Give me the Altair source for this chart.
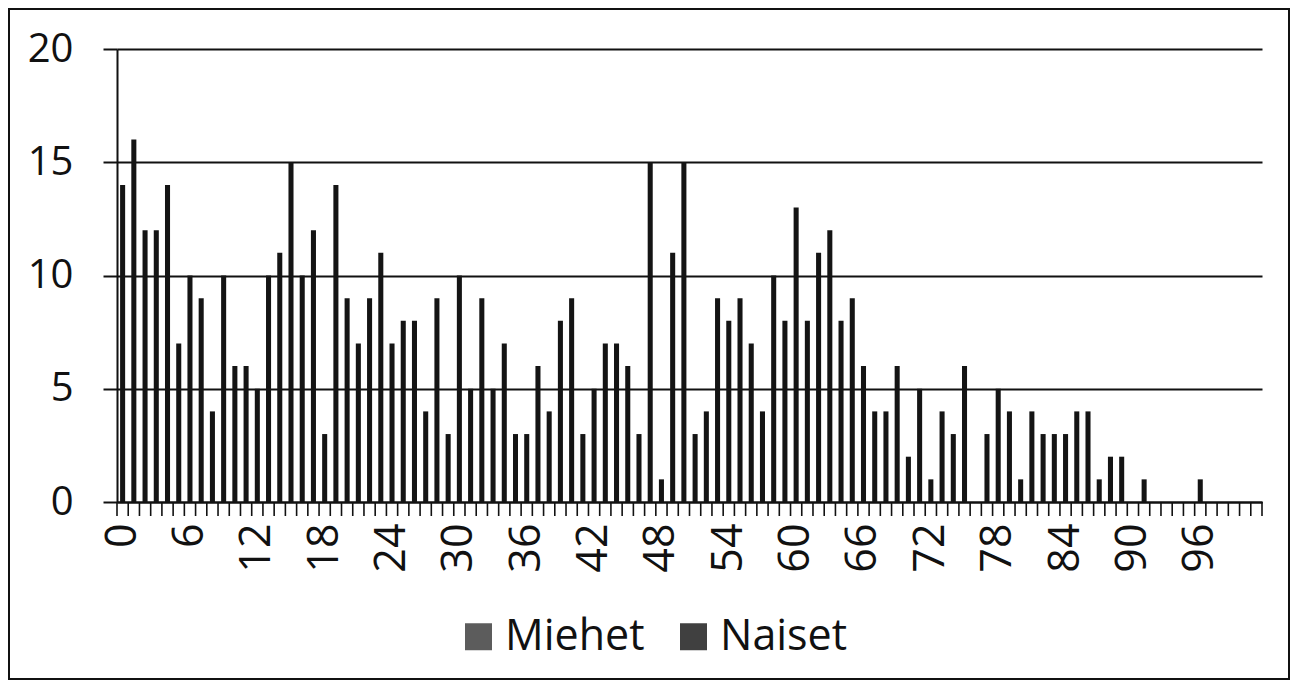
import altair as alt
import pandas as pd

# Age (0..101) on the x axis, number of persons on the y axis
ages = list(range(102))
counts = [14, 16, 12, 12, 14, 7, 10, 9, 4, 10,
          6, 6, 5, 10, 11, 15, 10, 12, 3, 14,
          9, 7, 9, 11, 7, 8, 8, 4, 9, 3,
          10, 5, 9, 5, 7, 3, 3, 6, 4, 8,
          9, 3, 5, 7, 7, 6, 3, 15, 1, 11,
          15, 3, 4, 9, 8, 9, 7, 4, 10, 8,
          13, 8, 11, 12, 8, 9, 6, 4, 4, 6,
          2, 5, 1, 4, 3, 6, 0, 3, 5, 4,
          1, 4, 3, 3, 3, 4, 4, 1, 2, 2,
          0, 1, 0, 0, 0, 0, 1, 0, 0, 0,
          0, 0]
tick_labels = list(range(0, 97, 6))
y_ticks = [0, 5, 10, 15, 20]
series = ["Miehet", "Naiset"]
series_colors = ["#5c5c5c", "#404040"]

W, H = 1145, 453
FONT = "Open Sans"

bars_df = pd.DataFrame({"ika": ages, "lkm": counts})
bounds_df = pd.DataFrame({"b": list(range(len(ages) + 1))})
legend_df = pd.DataFrame({"sarja": series})
frame_df = pd.DataFrame({"f": [0]})

bars = alt.Chart(bars_df).mark_bar(color="#141414").encode(
    x=alt.X("ika:O",
            scale=alt.Scale(paddingInner=0.55, paddingOuter=0.275),
            axis=alt.Axis(values=tick_labels, labelAngle=270, ticks=False, tickSize=0,
                          labelPadding=21, labelFontSize=43, labelFont=FONT,
                          labelColor="#111111", domainColor="#111111", domainWidth=2,
                          labelOverlap=False, title=None)),
    y=alt.Y("lkm:Q",
            scale=alt.Scale(domain=[0, 20]),
            axis=alt.Axis(values=y_ticks, grid=True, gridColor="#111111", gridWidth=2,
                          gridOpacity=1, tickColor="#111111", tickSize=14, tickWidth=2,
                          domainColor="#111111", domainWidth=2, labelPadding=30,
                          labelFontSize=40, labelFont=FONT,
                          labelColor="#111111", title=None)),
)

ticks = alt.Chart(bounds_df).mark_rule(color="#111111", strokeWidth=1.6).encode(
    x=alt.X("b:Q", scale=alt.Scale(domain=[0, len(ages)], nice=False, zero=False), axis=None),
    y=alt.value(H),
    y2=alt.value(H + 14),
)

legend_layer = alt.Chart(legend_df).mark_square(opacity=0).encode(
    color=alt.Color("sarja:N",
                    scale=alt.Scale(domain=series, range=series_colors),
                    legend=alt.Legend(orient="none", legendX=340, legendY=566,
                                      direction="horizontal", title=None,
                                      symbolType="square", symbolSize=729,
                                      symbolStrokeWidth=0, symbolOpacity=1,
                                      labelFontSize=43, labelFont=FONT,
                                      labelColor="#111111", labelOffset=5,
                                      columnPadding=27, padding=0)),
)

frame = alt.Chart(frame_df).mark_rect(fill=None, stroke="#111111", strokeWidth=2).encode(
    x=alt.value(-108), x2=alt.value(1172),
    y=alt.value(-40), y2=alt.value(630),
)

chart = alt.layer(bars, ticks, legend_layer, frame).resolve_scale(
    x="independent"
).properties(
    width=W, height=H,
    autosize=alt.AutoSizeParams(type="none"),
    padding={"left": 109, "top": 41, "right": 28, "bottom": 178},
).configure_view(stroke=None)

chart.save("out.html", embed_options={"renderer": "svg", "actions": False})
